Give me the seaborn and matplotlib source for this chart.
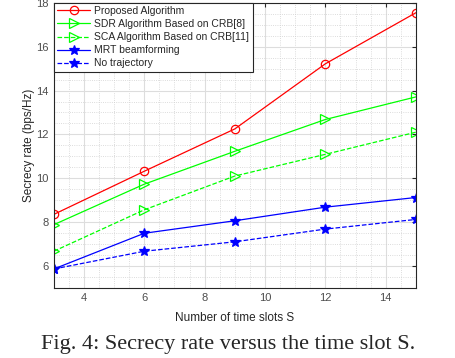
import matplotlib
matplotlib.use("Agg")
import matplotlib.pyplot as plt
import seaborn as sns
from matplotlib.ticker import MultipleLocator

slots = [3, 6, 9, 12, 15]
proposed = [8.35, 10.32, 12.25, 15.22, 17.55]
sdr_crb8 = [7.88, 9.73, 11.23, 12.68, 13.71]
sca_crb11 = [6.67, 8.56, 10.1, 11.09, 12.1]
mrt = [5.86, 7.49, 8.06, 8.68, 9.12]
no_traj = [5.86, 6.67, 7.1, 7.68, 8.12]

labels = ["Proposed Algorithm", "SDR Algorithm Based on CRB[8]",
          "SCA Algorithm Based on CRB[11]", "MRT beamforming", "No trajectory"]

sns.set_style("white")
plt.rcParams['font.family'] = ['Liberation Sans', 'DejaVu Sans']

fig = plt.figure(figsize=(4.56, 3.58), dpi=100)
ax = fig.add_axes([0.118, 0.196, 0.794, 0.796])

styles = [
    (proposed, "#ff0000", "-", "o", "none", 6),
    (sdr_crb8, "#00ff00", "-", ">", "none", 6.5),
    (sca_crb11, "#00ff00", "--", ">", "none", 6.5),
    (mrt, "#0000ff", "-", "*", "#0000ff", 7.5),
    (no_traj, "#0000ff", "--", "*", "#0000ff", 7.5),
]
for (vals, col, ls, mk, mfc, ms), lab in zip(styles, labels):
    sns.lineplot(x=slots, y=vals, ax=ax, color=col, linestyle=ls, marker=mk,
                 markersize=ms, markerfacecolor=mfc, markeredgecolor=col,
                 markeredgewidth=0.9, linewidth=0.9, label=lab)

ax.set_xlim(3, 15)
ax.set_ylim(5, 18)
ax.xaxis.set_major_locator(MultipleLocator(2))
ax.yaxis.set_major_locator(MultipleLocator(2))
ax.xaxis.set_minor_locator(MultipleLocator(0.5))
ax.yaxis.set_minor_locator(MultipleLocator(0.5))
ax.grid(which='major', color='#dddddd', linewidth=0.8)
ax.grid(which='minor', color='#d0d0d0', linestyle=':', linewidth=0.6)
ax.tick_params(which='both', direction='in', colors='#262626', labelsize=8,
               labelcolor='#4d4d4d', top=True, right=True)
ax.tick_params(which='minor', length=0)
ax.tick_params(which='major', length=3)
for s in ax.spines.values():
    s.set_color('#262626')
    s.set_linewidth(0.8)

ax.set_xlabel("Number of time slots S", fontsize=8.5, color='#262626', labelpad=7)
ax.set_ylabel("Secrecy rate (bps/Hz)", fontsize=8.5, color='#262626', labelpad=1)

leg = ax.legend(loc='upper left', fontsize=7.5, frameon=True, fancybox=False,
                borderaxespad=0, handlelength=3.2, borderpad=0.3,
                labelspacing=0.3, handletextpad=0.4)
leg.get_frame().set_edgecolor('#262626')
leg.get_frame().set_linewidth(0.8)
leg.get_frame().set_alpha(1)

fig.text(0.5, 0.025, "Fig. 4: Secrecy rate versus the time slot S.", ha='center',
         va='baseline', fontsize=16, family=['Liberation Serif', 'DejaVu Serif'])

fig.savefig("out.png", dpi=100)
